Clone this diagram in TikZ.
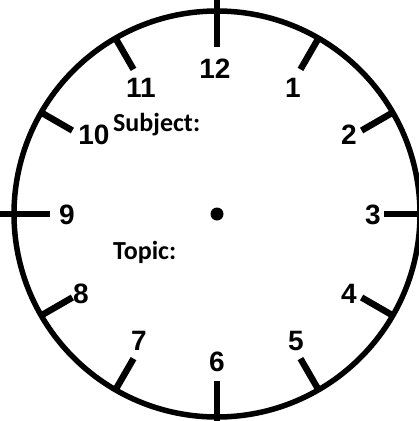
\documentclass[tikz,border=0pt]{standalone}
\usepackage{fontspec}
\setmainfont{Liberation Sans}
\newfontfamily\labfont{Carlito}
\usetikzlibrary{calc}
\begin{document}
\begin{tikzpicture}[x=1pt,y=-1pt,
  tickline/.style={line width=6.5pt,line cap=butt},
  rimline/.style={line width=5.5pt},
  hournum/.style={font=\fontsize{28}{28}\selectfont\bfseries,inner sep=0pt,anchor=base},
  labtext/.style={font=\labfont\fontsize{26}{26}\selectfont\bfseries,inner sep=0pt,anchor=base west}]
\useasboundingbox (0,0) rectangle (419,421);
\clip (0,0) rectangle (419,421);
\coordinate (c) at (217,214);
\draw[rimline] (c) circle (203);
\foreach \h in {1,2,4,5,7,8,10,11}
  \draw[tickline] ($(c)+(30*\h-90:167)$) -- ($(c)+(30*\h-90:203)$);
\foreach \h in {3,6,9,12}
  \draw[tickline] ($(c)+(30*\h-90:167)$) -- ($(c)+(30*\h-90:230)$);
\fill (c) circle (6.5);
\node[hournum] (n12) at (215,78) {12};
\node[hournum] (n1) at (293,97) {1};
\node[hournum] (n2) at (349,144) {2};
\node[hournum] (n3) at (373,224) {3};
\node[hournum] (n4) at (349,303) {4};
\node[hournum] (n5) at (296,350) {5};
\node[hournum] (n6) at (217,371) {6};
\node[hournum] (n7) at (139,350) {7};
\node[hournum] (n8) at (81,303) {8};
\node[hournum] (n9) at (67,224) {9};
\node[hournum] (n10) at (94,144) {10};
\node[hournum] (n11) at (141,97) {11};
\node[labtext] (subj) at (113,131) {Subject:};
\node[labtext] (topic) at (113,259) {Topic:};
\end{tikzpicture}
\end{document}
